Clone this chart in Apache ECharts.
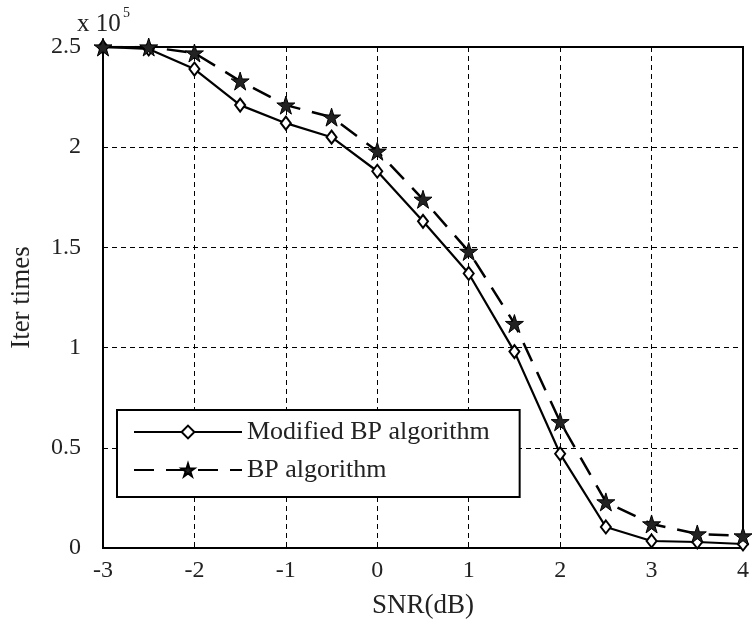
<!DOCTYPE html>
<html>
<head>
<meta charset="utf-8">
<script src="https://cdn.jsdelivr.net/npm/echarts@6/dist/echarts.min.js"></script>
<style>html,body{margin:0;padding:0;background:#fff;}#c{width:752px;height:624px;}</style>
</head>
<body>
<div id="c"></div>
<script>
// SNR values (dB)
var snr = [-3, -2.5, -2, -1.5, -1, -0.5, 0, 0.5, 1, 1.5, 2, 2.5, 3, 3.5, 4];
// Iteration times (x 10^5)
var modifiedBP = [2.50, 2.49, 2.39, 2.21, 2.12, 2.05, 1.88, 1.63, 1.37, 0.98, 0.47, 0.105, 0.035, 0.03, 0.02];
var plainBP    = [2.50, 2.50, 2.47, 2.33, 2.21, 2.15, 1.98, 1.74, 1.48, 1.12, 0.63, 0.23, 0.12, 0.07, 0.06];
var yTicks = [0, 0.5, 1, 1.5, 2, 2.5];
var seriesNames = ['Modified BP algorithm', 'BP algorithm'];

var FONT = '"Liberation Serif", "DejaVu Serif", serif';
var STAR = 'path://M50 0 L61.17 34.63 L97.55 34.55 L68.07 55.87 L79.39 90.45 L50 69 L20.61 90.45 L31.93 55.87 L2.45 34.55 L38.83 34.63 Z';

function pairs(xs, ys) { return xs.map(function (x, i) { return [x, ys[i]]; }); }

var chart = echarts.init(document.getElementById('c'), null, {renderer: 'canvas'});
chart.setOption({
  animation: false,
  backgroundColor: '#fff',
  grid: {left: 103, right: 8, top: 47, bottom: 75, show: true, borderColor: '#000', borderWidth: 2, backgroundColor: 'transparent'},
  xAxis: {
    type: 'value', min: -3, max: 4, interval: 1,
    name: 'SNR(dB)', nameLocation: 'middle', nameGap: 44,
    nameTextStyle: {fontFamily: FONT, fontSize: 27, color: '#222'},
    axisLine: {onZero: false, lineStyle: {color: '#000', width: 2}},
    axisTick: {inside: true, length: 5, lineStyle: {color: '#000'}},
    axisLabel: {fontFamily: FONT, fontSize: 24, color: '#222', margin: 11},
    splitLine: {show: true, lineStyle: {color: '#000', type: [5, 4], width: 1}}
  },
  yAxis: {
    type: 'value', min: 0, max: 2.5, interval: 0.5,
    name: 'Iter times', nameLocation: 'middle', nameGap: 68, nameRotate: 90,
    nameTextStyle: {fontFamily: FONT, fontSize: 27, color: '#222'},
    axisLine: {onZero: false, lineStyle: {color: '#000', width: 2}},
    axisTick: {inside: true, length: 5, lineStyle: {color: '#000'}},
    axisLabel: {fontFamily: FONT, fontSize: 24, color: '#222', margin: 22,
      formatter: function (v) { return yTicks.indexOf(v) >= 0 ? String(v) : ''; }},
    splitLine: {show: true, lineStyle: {color: '#000', type: [5, 4], width: 1}}
  },
  legend: {
    orient: 'vertical', left: 117, top: 410,
    data: seriesNames,
    itemWidth: 108, itemHeight: 16, itemGap: 12,
    padding: [9, 30, 14, 16],
    borderColor: '#000', borderWidth: 2, backgroundColor: '#fff',
    textStyle: {fontFamily: FONT, fontSize: 26, color: '#222'}
  },
  graphic: [
    {type: 'text', left: 77, top: 12, style: {text: 'x 10', font: '25px ' + FONT, fill: '#222'}},
    {type: 'text', left: 123, top: 6, style: {text: '5', font: '14px ' + FONT, fill: '#222'}}
  ],
  series: [
    {
      name: seriesNames[0], type: 'line', data: pairs(snr, modifiedBP),
      symbol: 'diamond', symbolSize: [10, 13],
      itemStyle: {color: '#fff', borderColor: '#000', borderWidth: 2},
      lineStyle: {color: '#000', width: 2.2, type: 'solid'},
      z: 3
    },
    {
      name: seriesNames[1], type: 'line', data: pairs(snr, plainBP),
      symbol: STAR, symbolSize: 18,
      itemStyle: {color: '#222', borderColor: '#000', borderWidth: 1},
      lineStyle: {color: '#000', width: 2.5, type: [20, 12]},
      z: 4
    }
  ]
});
</script>
</body>
</html>
